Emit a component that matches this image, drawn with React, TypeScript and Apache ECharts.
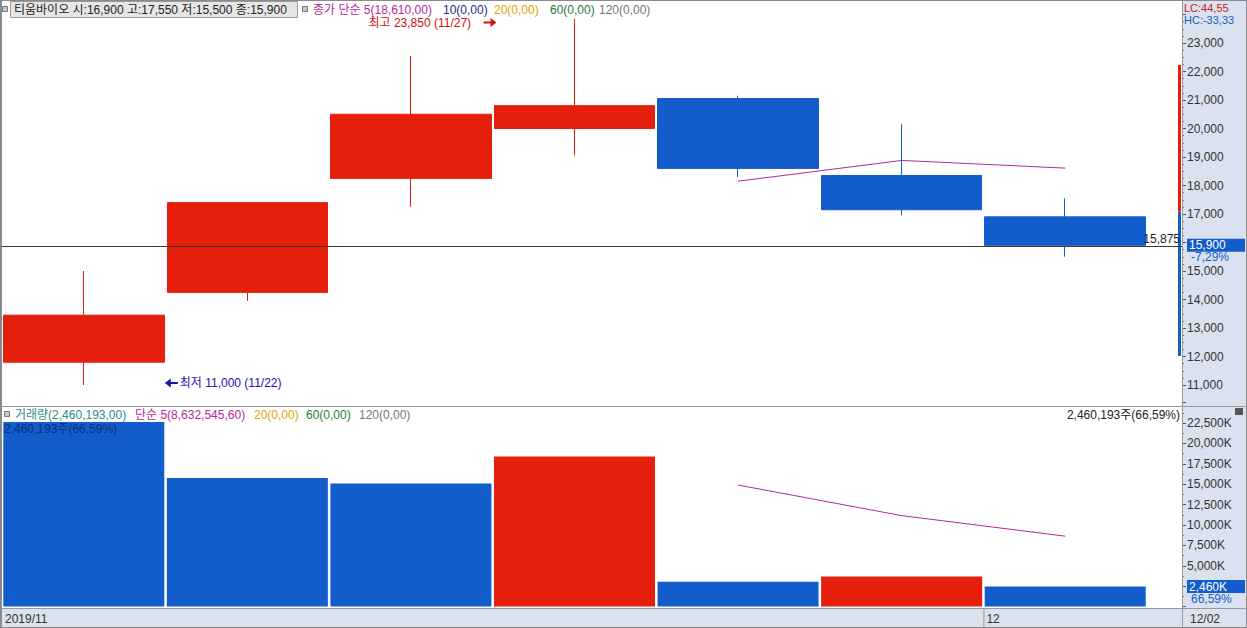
import React, { useEffect, useRef } from "react";
import * as echarts from "echarts";

// ---- data ----
const dates = ["11/22", "11/25", "11/26", "11/27", "11/28", "11/29", "12/02"];
const opens = [11800, 14250, 18250, 20000, 21050, 18350, 16900];
const closes = [13450, 17400, 20500, 20800, 18600, 17150, 15900];
const lows = [11000, 13950, 17250, 19050, 18300, 16950, 15500];
const highs = [15000, 17400, 22550, 23850, 21150, 20150, 17550];
const ma5Price = [null, null, null, null, 18150, 18880, 18610];
const volumes = [22620000, 15760000, 15100000, 18400000, 3050000, 3694536, 2460193];
const ma5Volume = [null, null, null, null, 14900000, 11150000, 8632546];
const refPrice = 15875;
const rangeBarLow = [12020, 17090];
const rangeBarHigh = [17090, 22230];
const priceMin = 11000;
const priceMax = 24000;
const priceStep = 1000;
const volMin = 0;
const volMax = 25000000;
const volStep = 2500000;

const FONT = "'Liberation Sans', 'Noto Sans CJK KR', sans-serif";
const RED = "#e61e0c";
const BLUE = "#135ccb";
const MAG = "#b4289e";
const AXIS_BG = "#d9e2ee";

const fmt = (v: number) => v.toLocaleString("en-US");

export default function App() {
  const ref = useRef<HTMLDivElement>(null);
  useEffect(() => {
    document.body.style.margin = "0";
    const chart = echarts.init(ref.current!, null, { renderer: "svg" });
    const candleData = dates.map((_, i) => [opens[i], closes[i], lows[i], highs[i]]);
    const rangeData = rangeBarLow.map((lo, i) => [2, lo, rangeBarHigh[i], i]);
    const lastClose = closes[closes.length - 1];
    const lastVol = volumes[volumes.length - 1];

    const tickCommon = {
      show: true,
      length: 4,
      inside: false,
      lineStyle: { color: "#555", width: 1 },
    };

    const option: any = {
      animation: false,
      backgroundColor: "#ffffff",
      textStyle: { fontFamily: FONT },
      grid: [
        { left: 2, top: 14.5, width: 1145, height: 370.5 },
        { left: 2, top: 14.5, width: 1180, height: 370.5 },
        { left: 2, top: 402.6, width: 1145, height: 204 },
        { left: 2, top: 402.6, width: 1180, height: 204 },
      ],
      xAxis: [
        { gridIndex: 0, type: "category", data: dates, show: false, boundaryGap: true },
        { gridIndex: 1, type: "value", min: 1, max: 2, show: false },
        { gridIndex: 2, type: "category", data: dates, show: false, boundaryGap: true },
        { gridIndex: 3, type: "value", min: 1, max: 2, show: false },
      ],
      yAxis: [
        { gridIndex: 0, type: "value", min: priceMin, max: priceMax, interval: priceStep, show: false },
        {
          gridIndex: 1,
          type: "value",
          position: "right",
          min: priceMin,
          max: priceMax,
          interval: priceStep,
          axisLine: { show: false, onZero: false },
          axisTick: tickCommon,
          minorTick: { show: true, splitNumber: 4, length: 2, lineStyle: { color: "#777" } },
          splitLine: { show: false },
          axisLabel: {
            margin: 5,
            color: "#333",
            fontSize: 12,
            fontFamily: FONT,
            formatter: (v: number) =>
              v === priceMax || Math.abs(v - lastClose) < 400 ? "" : fmt(v),
          },
        },
        { gridIndex: 2, type: "value", min: volMin, max: volMax, interval: volStep, show: false },
        {
          gridIndex: 3,
          type: "value",
          position: "right",
          min: volMin,
          max: volMax,
          interval: volStep,
          axisLine: { show: false, onZero: false },
          axisTick: tickCommon,
          minorTick: { show: true, splitNumber: 2, length: 2, lineStyle: { color: "#777" } },
          splitLine: { show: false },
          axisLabel: {
            margin: 5,
            color: "#333",
            fontSize: 12,
            fontFamily: FONT,
            formatter: (v: number) =>
              v === volMax || v === volMin || Math.abs(v - lastVol) < 800000
                ? ""
                : fmt(v / 1000) + "K",
          },
        },
      ],
      series: [
        {
          type: "candlestick",
          xAxisIndex: 0,
          yAxisIndex: 0,
          data: candleData,
          barWidth: 161,
          clip: false,
          itemStyle: {
            color: RED,
            color0: BLUE,
            borderColor: RED,
            borderColor0: BLUE,
            borderWidth: 1,
          },
        },
        {
          type: "line",
          xAxisIndex: 0,
          yAxisIndex: 0,
          data: ma5Price,
          symbol: "none",
          lineStyle: { color: MAG, width: 1 },
          z: 5,
        },
        {
          type: "custom",
          xAxisIndex: 1,
          yAxisIndex: 1,
          data: rangeData,
          encode: { x: 0, y: [1, 2] },
          renderItem: (params: any, api: any) => {
            const p1 = api.coord([2, api.value(1)]);
            const p2 = api.coord([2, api.value(2)]);
            return {
              type: "rect",
              shape: { x: p1[0] - 4, y: p2[1], width: 3, height: p1[1] - p2[1] },
              style: { fill: api.value(3) === 0 ? BLUE : RED },
            };
          },
          markLine: {
            silent: true,
            symbol: "none",
            lineStyle: { color: "#3a3a2c", width: 1, type: "solid" },
            label: {
              position: "insideEndTop",
              formatter: fmt(refPrice),
              color: "#222",
              fontSize: 12,
              fontFamily: FONT,
              distance: [2, 1],
            },
            data: [{ yAxis: refPrice }],
          },
          z: 3,
        },
        {
          type: "bar",
          xAxisIndex: 2,
          yAxisIndex: 2,
          data: volumes,
          barWidth: 161,
          itemStyle: {
            color: (p: any) =>
              p.dataIndex === 0 || volumes[p.dataIndex] < volumes[p.dataIndex - 1] ? BLUE : RED,
          },
        },
        {
          type: "line",
          xAxisIndex: 2,
          yAxisIndex: 2,
          data: ma5Volume,
          symbol: "none",
          lineStyle: { color: MAG, width: 1 },
          z: 5,
        },
      ],
    };
    chart.setOption(option);

    const yCur = chart.convertToPixel({ yAxisIndex: 1 }, lastClose) as number;
    const yVol = chart.convertToPixel({ yAxisIndex: 3 }, lastVol) as number;
    const half = 1145 / dates.length / 2;
    const xMonth = (chart.convertToPixel({ xAxisIndex: 2 }, dates[6]) as number) - half;
    const xFirst = (chart.convertToPixel({ xAxisIndex: 2 }, dates[0]) as number) - half;
    const xHigh = chart.convertToPixel({ xAxisIndex: 0 }, dates[3]) as number;
    const xLow = chart.convertToPixel({ xAxisIndex: 0 }, dates[0]) as number;
    const yLowLbl = chart.convertToPixel({ yAxisIndex: 0 }, lows[0]) as number;

    const t = (x: number, y: number, text: string, fill: string, extra: any = {}) => ({
      type: "text",
      x,
      y,
      z: 100,
      style: {
        text,
        fill,
        font: `12px ${FONT}`,
        verticalAlign: "middle",
        align: "left",
        ...extra,
      },
    });
    const line = (x1: number, y1: number, x2: number, y2: number, stroke = "#999", w = 1) => ({
      type: "line",
      z: 90,
      shape: { x1, y1, x2, y2 },
      style: { stroke, lineWidth: w },
    });
    const sq = (x: number, y: number) => ({
      type: "rect",
      z: 100,
      shape: { x, y, width: 5, height: 5 },
      style: { fill: "#c8c8c8", stroke: "#777", lineWidth: 1 },
    });
    const arrow = (x: number, y: number, dir: number, color: string) => ({
      type: "group",
      z: 100,
      children: [
        {
          type: "line",
          z: 100,
          shape: { x1: x, y1: y, x2: x + dir * 9, y2: y },
          style: { stroke: color, lineWidth: 2 },
        },
        {
          type: "polygon",
          z: 100,
          shape: {
            points: [
              [x + dir * 13, y],
              [x + dir * 7, y - 4.5],
              [x + dir * 7, y + 4.5],
            ],
          },
          style: { fill: color },
        },
      ],
    });

    const highText = `최고 ${fmt(highs[3])} (${dates[3]})`;
    const lowText = `최저 ${fmt(lows[0])} (${dates[0]})`;
    const pct = (((closes[6] - closes[5]) / closes[5]) * 100).toFixed(2).replace(".", ",");
    const hx = xHigh - 206;
    const lx = xLow + 80;

    chart.setOption({
      graphic: {
        elements: [
          // backgrounds
          { type: "rect", z: -100, shape: { x: 1182, y: 0, width: 65, height: 609 }, style: { fill: AXIS_BG } },
          { type: "rect", z: -100, shape: { x: 0, y: 608.5, width: 1247, height: 20 }, style: { fill: AXIS_BG } },
          line(0, 406.5, 1247, 406.5),
          line(0, 608.5, 1247, 608.5),
          line(1182.5, 0, 1182.5, 628),
          line(xMonth + 0.5, 609, xMonth + 0.5, 627),
          line(1, 0, 1, 628, "#8a8a8a", 2),
          {
            type: "rect",
            z: 90,
            shape: { x: 0.5, y: 0.5, width: 1246, height: 627 },
            style: { fill: "none", stroke: "#8a8a8a", lineWidth: 1 },
          },
          // price header
          sq(2.5, 6.5),
          {
            type: "rect",
            z: 99,
            shape: { x: 10.5, y: 1.5, width: 287, height: 16 },
            style: { fill: "#e6e6e6", stroke: "#9a9a9a", lineWidth: 1 },
          },
          t(14, 9.5, `티움바이오 시:${fmt(opens[6])} 고:${fmt(highs[6])} 저:${fmt(lows[6])} 종:${fmt(closes[6])}`, "#222"),
          sq(302.5, 6.5),
          t(313, 9.5, "종가 단순 5(18,610,00)", MAG),
          t(443, 9.5, "10(0,00)", "#1c2a8c"),
          t(494, 9.5, "20(0,00)", "#e0a400"),
          t(550, 9.5, "60(0,00)", "#1e7d32"),
          t(599, 9.5, "120(0,00)", "#777"),
          t(hx, 22.5, highText, "#d01010"),
          arrow(hx + 115, 22.5, 1, "#d01010"),
          arrow(lx + 14, yLowLbl - 2, -1, "#1515b0"),
          t(lx + 16, yLowLbl - 2, lowText, "#1515b0"),
          // right axis labels
          t(1184, 7.5, "LC:44,55", "#d01818", { font: `11px ${FONT}` }),
          t(1184, 19.5, "HC:-33,33", "#1a5cc0", { font: `11px ${FONT}` }),
          { type: "rect", z: 100, shape: { x: 1187, y: yCur - 6.5, width: 58, height: 13 }, style: { fill: BLUE } },
          t(1189, yCur, fmt(lastClose), "#ffffff"),
          t(1191, yCur + 12, `${pct}%`, BLUE),
          // volume header
          sq(4.5, 411.5),
          t(15, 414.5, "거래량(2,460,193,00)", "#2a8c8c"),
          t(135, 414.5, "단순 5(8,632,545,60)", MAG),
          t(254, 414.5, "20(0,00)", "#e0a400"),
          t(306, 414.5, "60(0,00)", "#1e7d32"),
          t(359, 414.5, "120(0,00)", "#777"),
          t(4, 428.5, "2,460,193주(66,59%)", "#0d2f78"),
          t(1180, 414.5, "2,460,193주(66,59%)", "#222", { align: "right" }),
          { type: "rect", z: 100, shape: { x: 1235, y: 408, width: 8, height: 7 }, style: { fill: "#555" } },
          line(1237, 410, 1241, 413, "#fff"),
          line(1241, 410, 1237, 413, "#fff"),
          { type: "rect", z: 100, shape: { x: 1187, y: yVol - 6.5, width: 58, height: 13 }, style: { fill: BLUE } },
          t(1189, yVol, fmt(Math.round(lastVol / 1000)) + "K", "#ffffff"),
          t(1191, yVol + 12, "66,59%", BLUE),
          // date strip
          t(xFirst + 3, 618.5, "2019/11", "#333"),
          t(xMonth + 3, 618.5, "12", "#333"),
          t(1190, 618.5, dates[6], "#333"),
        ],
      },
    });

    return () => chart.dispose();
  }, []);
  return <div ref={ref} style={{ width: 1247, height: 628 }} />;
}
